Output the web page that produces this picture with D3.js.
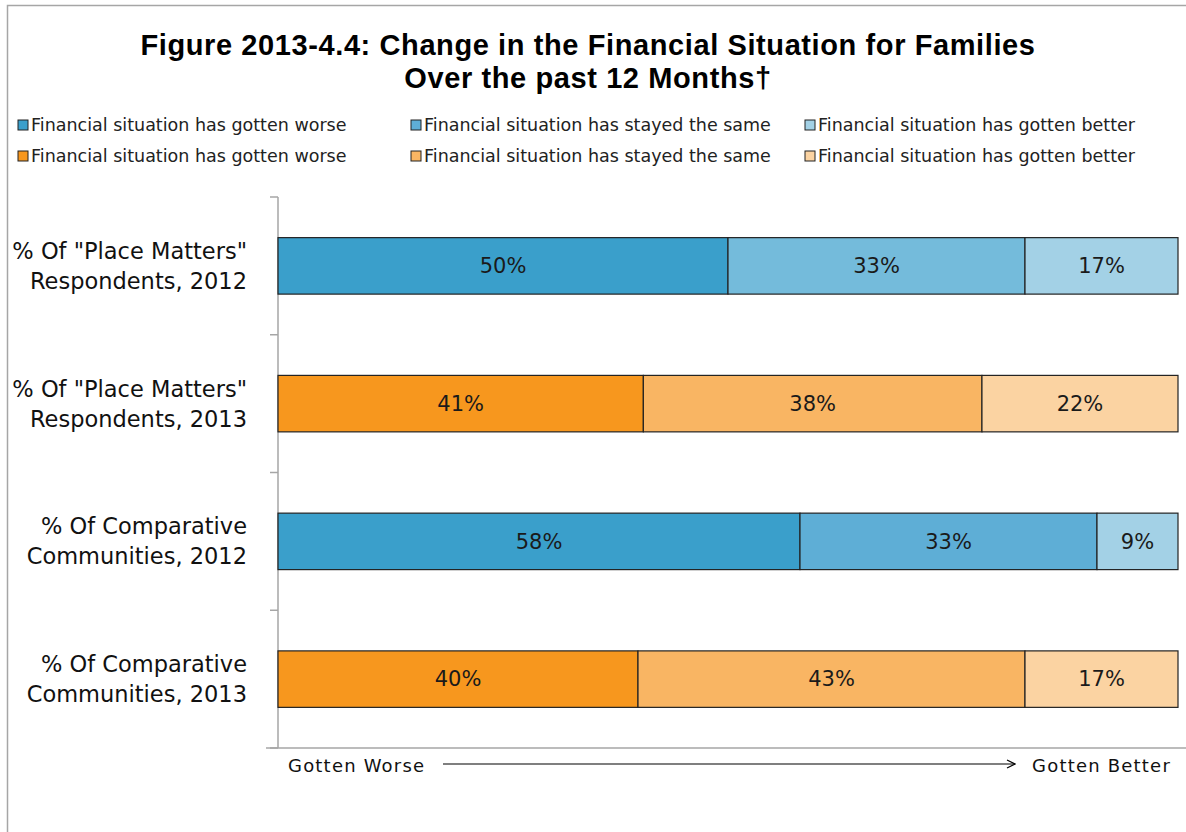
<!DOCTYPE html>
<html>
<head>
<meta charset="utf-8">
<script src="https://cdn.jsdelivr.net/npm/d3@7"></script>
<style>
  html, body { margin: 0; padding: 0; background: #fff; }
  svg { display: block; font-family: "DejaVu Sans", sans-serif; }
</style>
</head>
<body>
<svg id="chart" width="1186" height="832"></svg>
<script>
// Survey groups (top to bottom), each label split over two lines
const categories = [
  "% Of \"Place Matters\"|Respondents, 2012",
  "% Of \"Place Matters\"|Respondents, 2013",
  "% Of Comparative|Communities, 2012",
  "% Of Comparative|Communities, 2013"
];
const seriesKeys = ["worse", "same", "better"];
const seriesNames = [
  "Financial situation has gotten worse",
  "Financial situation has stayed the same",
  "Financial situation has gotten better"
];
// Percent of respondents per group
const worseValues  = [50, 41, 58, 40];
const sameValues   = [33, 38, 33, 43];
const betterValues = [17, 22, 9, 17];

// Fill colours for each group's three segments
const rowColors = [
  ["#3a9fcb", "#74bbdb", "#a3d1e6"],
  ["#f7971e", "#f9b563", "#fbd3a2"],
  ["#3a9fcb", "#5eaed6", "#a3d1e6"],
  ["#f7971e", "#f9b563", "#fbd3a2"]
];
const legendBlue   = ["#3a9fcb", "#5eaed6", "#a3d1e6"];
const legendOrange = ["#f7971e", "#f9b563", "#fbd3a2"];

const titleLines = [
  "Figure 2013-4.4: Change in the Financial Situation for Families",
  "Over the past 12 Months\u2020"
];
const axisStart = "Gotten Worse";
const axisEnd = "Gotten Better";

const rows = categories.map((c, i) => ({
  category: c, worse: worseValues[i], same: sameValues[i], better: betterValues[i]
}));

const svg = d3.select("#chart");

// Outer frame
svg.append("rect")
  .attr("x", 7.5).attr("y", 5.5).attr("width", 1300).attr("height", 1000)
  .attr("fill", "none").attr("stroke", "#a6a6a6").attr("stroke-width", 1.5);

// Title
svg.append("g").selectAll("text").data(titleLines).join("text")
  .attr("x", 588).attr("y", (d, i) => 55 + i * 33)
  .attr("text-anchor", "middle")
  .attr("font-family", "'Liberation Sans', Arial, sans-serif")
  .attr("font-weight", "bold").attr("font-size", 29).attr("letter-spacing", 0.6)
  .attr("fill", "#000")
  .text(d => d);

// Legend: blue row then orange row
const legendCols = [18, 411, 805];
[legendBlue, legendOrange].forEach((pal, r) => {
  const g = svg.append("g").attr("transform", `translate(0, ${125 + r * 31})`);
  seriesNames.forEach((name, i) => {
    g.append("rect")
      .attr("x", legendCols[i]).attr("y", -5).attr("width", 10).attr("height", 10)
      .attr("fill", pal[i]).attr("stroke", "#222").attr("stroke-width", 1);
    g.append("text")
      .attr("x", legendCols[i] + 13).attr("y", 0).attr("dy", "0.35em")
      .attr("font-size", 17.5).attr("fill", "#222")
      .text(name);
  });
});

// Scales
const x = d3.scaleLinear().domain([0, 1]).range([278, 1178]);
const y = d3.scaleBand().domain(categories).range([197, 748])
  .paddingInner(0.59).paddingOuter(0.295);

// 100% stacked layout
const stack = d3.stack().keys(seriesKeys).offset(d3.stackOffsetExpand);
const layers = stack(rows);

// Category axis line and boundary ticks
const axisG = svg.append("g").attr("stroke", "#a6a6a6").attr("stroke-width", 1.5);
axisG.append("line")
  .attr("x1", x(0)).attr("x2", x(0)).attr("y1", y.range()[0]).attr("y2", y.range()[1]);
const bounds = d3.range(categories.length + 1).map(i => y.range()[0] + i * y.step());
axisG.selectAll(".tick").data(bounds).join("line")
  .attr("x1", x(0) - 8).attr("x2", x(0)).attr("y1", d => d).attr("y2", d => d);
axisG.append("line")
  .attr("x1", x(0) - 12).attr("x2", 1200).attr("y1", y.range()[1]).attr("y2", y.range()[1]);

// Category labels
const labelG = svg.append("g");
categories.forEach(c => {
  const parts = c.split("|");
  const cy = y(c) + y.bandwidth() / 2;
  labelG.append("text")
    .attr("x", 247).attr("y", cy).attr("text-anchor", "end")
    .attr("font-size", 22.5).attr("fill", "#111")
    .selectAll("tspan").data(parts).join("tspan")
    .attr("x", 247)
    .attr("y", (d, i) => cy + (i - (parts.length - 1) / 2) * 30)
    .attr("dy", "0.35em")
    .text(d => d);
});

// Bars
const barsG = svg.append("g");
layers.forEach((layer, si) => {
  barsG.selectAll(null).data(layer).join("rect")
    .attr("x", d => x(d[0]))
    .attr("y", d => y(d.data.category))
    .attr("width", d => x(d[1]) - x(d[0]))
    .attr("height", y.bandwidth())
    .attr("fill", (d, i) => rowColors[i][si])
    .attr("stroke", "#222").attr("stroke-width", 1.2);
});

// Value labels
layers.forEach(layer => {
  barsG.selectAll(null).data(layer).join("text")
    .attr("x", d => (x(d[0]) + x(d[1])) / 2)
    .attr("y", d => y(d.data.category) + y.bandwidth() / 2)
    .attr("dy", "0.35em").attr("text-anchor", "middle")
    .attr("font-size", 21).attr("fill", "#1a1a1a")
    .text(d => d.data[layer.key] + "%");
});

// Direction arrow under the axis
svg.append("defs").append("marker")
  .attr("id", "arrowhead").attr("viewBox", "0 0 10 10")
  .attr("refX", 9).attr("refY", 5).attr("markerWidth", 10).attr("markerHeight", 10)
  .attr("markerUnits", "userSpaceOnUse").attr("orient", "auto")
  .append("path").attr("d", "M1,1 L9,5 L1,9").attr("fill", "none")
  .attr("stroke", "#000").attr("stroke-width", 1.2);

const arrowY = 766;
svg.append("text").attr("x", 288).attr("y", arrowY).attr("dy", "0.35em")
  .attr("font-size", 18).attr("letter-spacing", 1.2).attr("fill", "#111").text(axisStart);
svg.append("line")
  .attr("x1", 443).attr("x2", 1015).attr("y1", arrowY - 2).attr("y2", arrowY - 2)
  .attr("stroke", "#000").attr("stroke-width", 1.2)
  .attr("marker-end", "url(#arrowhead)");
svg.append("text").attr("x", 1171).attr("y", arrowY).attr("dy", "0.35em")
  .attr("text-anchor", "end")
  .attr("font-size", 18).attr("letter-spacing", 1.2).attr("fill", "#111").text(axisEnd);
</script>
</body>
</html>
